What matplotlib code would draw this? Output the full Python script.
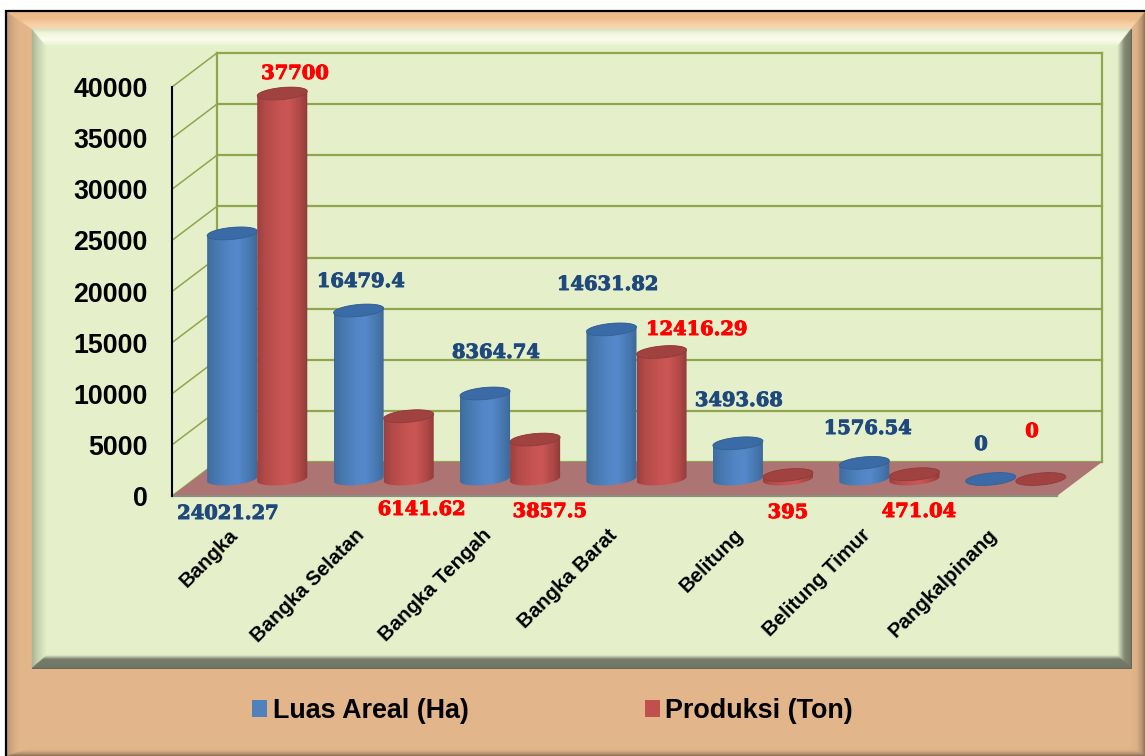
import numpy as np
import matplotlib
matplotlib.use("Agg")
import matplotlib.pyplot as plt
import matplotlib.patheffects as pe
from matplotlib.colors import to_rgb
from matplotlib.patches import Polygon, Patch
from matplotlib.path import Path
from matplotlib.transforms import IdentityTransform

# ---------- data ----------
categories = ["Bangka", "Bangka Selatan", "Bangka Tengah", "Bangka Barat",
              "Belitung", "Belitung Timur", "Pangkalpinang"]
luas_areal = [24021.27, 16479.4, 8364.74, 14631.82, 3493.68, 1576.54, 0]
produksi = [37700, 6141.62, 3857.5, 12416.29, 395, 471.04, 0]
series_names = ["Luas Areal (Ha)", "Produksi (Ton)"]
y_ticks = [0, 5000, 10000, 15000, 20000, 25000, 30000, 35000, 40000]

# ---------- layout ----------
W, H = 1145, 756
FONT = "Liberation Sans"
SERIF = "DejaVu Serif"
BLUE_TXT, RED_TXT = "#1F497D", "#FF0000"
GRID = "#8FA54E"
DEPTH = (45, 34)      # oblique shift of back wall, in pixels
BAR_DEPTH = (22, 17)  # oblique shift of the cylinders
BAR_OFFSET = 0.198    # in categories
TILT = 0.09

plt.rcParams["font.family"] = [FONT, "DejaVu Sans"]
fig = plt.figure(figsize=(W / 100, H / 100), dpi=100, facecolor="white")

# ---------- frame panels, in pixel coordinates ----------
bg = fig.add_axes([0, 0, 1, 1], zorder=0)
bg.set_xlim(0, W)
bg.set_ylim(H, 0)
bg.axis("off")


def ramp(stops, t):
    pos = [s[0] for s in stops]
    cols = np.array([to_rgb(s[1]) for s in stops])
    return tuple(np.interp(t, pos, cols[:, c]) for c in range(3))


def rect(x0, y0, x1, y1, color):
    bg.add_patch(Polygon([(x0, y0), (x1, y0), (x1, y1), (x0, y1)], closed=True,
                         fc=color, ec="none", antialiased=False))


def bevel(x0, y0, x1, y1, widths, left, top, right, bottom, steps=60):
    wl, wt, wr, wb = widths
    for k in range(steps):
        a, b = k / steps, (k + 1) / steps
        t = (a + b) / 2
        def corners(f):
            return (x0 + wl * f, y0 + wt * f, x1 - wr * f, y1 - wb * f)
        xa, ya, xb, yb = corners(a)
        xc, yc, xd, yd = corners(b)
        quads = [
            ([(xa, ya), (xc, yc), (xc, yd), (xa, yb)], left),
            ([(xa, ya), (xb, ya), (xd, yc), (xc, yc)], top),
            ([(xb, ya), (xd, yc), (xd, yd), (xb, yb)], right),
            ([(xa, yb), (xc, yd), (xd, yd), (xb, yb)], bottom),
        ]
        for pts, st in quads:
            c = ramp(st, t)
            bg.add_patch(Polygon(pts, closed=True, fc=c, ec=c, lw=0.3))


TAN = "#E2B58A"
FACE = "#E5F0CB"
rect(7, 12, W + 2, H + 2, TAN)
bevel(7, 12, W, H, (25, 17, 14, 8),
      left=[(0, "#BC9672"), (0.3, "#D9AE85"), (0.5, TAN), (1, TAN)],
      top=[(0, "#EDBB89"), (0.45, "#EFBE8D"), (0.7, "#F6D0A6"), (1, "#F8D8B2")],
      right=[(0, "#8E6F55"), (0.25, "#B99572"), (0.6, "#DDB187"), (1, TAN)],
      bottom=[(0, "#7F6650"), (0.3, "#B08D6C"), (0.7, "#D9AE85"), (1, TAN)])
bg.plot([6, 6, W + 3], [H + 3, 11, 11], color="black", lw=1.6, solid_joinstyle="miter")

rect(32, 29, 1131, 668, FACE)
bevel(32, 29, 1131, 668, (15, 18, 14, 13),
      left=[(0, "#A8B394"), (0.4, "#C5D0AE"), (1, FACE)],
      top=[(0, "#D5E2BC"), (0.25, "#F0F6DC"), (0.6, "#FBFDEE"), (1, FACE)],
      right=[(0, "#6F7663"), (0.5, "#848C74"), (1, FACE)],
      bottom=[(0, "#6E7564"), (0.7, "#757C69"), (1, "#DDE8C2")])
bg.plot([1131, 1131, 32], [29, 668, 668], color="#55594E", lw=0.6)

# ---------- value axes ----------
ax = fig.add_axes([172 / W, (H - 496) / H, 885 / W, 409 / H], zorder=1)
ax.patch.set_visible(False)
ax.set_xlim(0, len(categories))
ax.set_ylim(0, 40000)
ax.set_autoscale_on(False)
for s in ax.spines.values():
    s.set_visible(False)
ax.spines["left"].set_visible(True)
ax.spines["left"].set_linewidth(1.5)
ax.spines["left"].set_zorder(20)
ax.set_yticks(y_ticks)
ax.set_yticklabels([str(t) for t in y_ticks], fontsize=19.3, fontweight="bold",
                   fontfamily=FONT)
ax.tick_params(axis="y", length=0, pad=17.5)
ax.set_xticks(np.arange(len(categories)) + 0.5)
ax.set_xticklabels(categories, rotation=45, ha="right", va="center",
                   rotation_mode="anchor", fontsize=14.7, fontweight="bold",
                   fontfamily=FONT)
ax.tick_params(axis="x", length=0, pad=26)
ID = IdentityTransform()


def disp(x, y, shift=(0, 0)):
    p = ax.transData.transform((x, y))
    return p[0] + shift[0], p[1] + shift[1]


xmax = len(categories)
# gridlines on the side and back walls
for v in y_ticks:
    a = disp(0, v)
    b = disp(0, v, DEPTH)
    c = disp(xmax, v, DEPTH)
    ax.plot([a[0], b[0]], [a[1], b[1]], color=GRID, lw=1.1, transform=ID, clip_on=False, zorder=2)
    ax.plot([b[0], c[0]], [b[1], c[1]], color=GRID, lw=1.6, transform=ID, clip_on=False, zorder=2)
for x in (0, xmax):
    b = disp(x, 0, DEPTH)
    c = disp(x, 40000, DEPTH)
    ax.plot([b[0], c[0]], [b[1], c[1]], color=GRID, lw=1.6, transform=ID, clip_on=False, zorder=2)

# floor
floor = [disp(0, 0), disp(0, 0, DEPTH), disp(xmax, 0, DEPTH), disp(xmax, 0)]
ax.add_patch(Polygon(floor, closed=True, fc="#AD7474", ec="none", transform=ID,
                     clip_on=False, zorder=3))
ax.plot([floor[0][0], floor[3][0]], [floor[0][1], floor[3][1]], color="#8E8E80", lw=1.6,
        transform=ID, clip_on=False, zorder=4)


def ellipse_pts(cx, cy, rx, ry, t):
    return np.column_stack([cx + rx * np.cos(t), cy + ry * np.sin(t) + TILT * rx * np.cos(t)])


def cylinder(xc, value, stops, top_col, top_edge, z):
    bx, by = disp(xc, 0, BAR_DEPTH)
    _, ty = disp(xc, value, BAR_DEPTH)
    x_left, _ = disp(xc - BAR_OFFSET, 0, BAR_DEPTH)
    rx = bx - x_left
    ry = 6
    if value > 0:
        lower = ellipse_pts(bx, by, rx, ry, np.linspace(np.pi, 2 * np.pi, 60))
        upper = ellipse_pts(bx, ty, rx, ry, np.linspace(0, np.pi, 60))
        pts = np.vstack([lower, upper, lower[:1]])
        path = Path(pts)
        grad = np.array([[ramp(stops, t) for t in np.linspace(0, 1, 64)]])
        im = ax.imshow(grad, extent=(bx - rx, bx + rx, by - ry - 6, ty + ry + 6), aspect="auto",
                       transform=ID, interpolation="bilinear", zorder=z)
        im.set_clip_box(fig.bbox)
        im.set_clip_path(path, ID)
    top = ellipse_pts(bx, ty, rx, ry, np.linspace(0, 2 * np.pi, 80))
    ax.add_patch(Polygon(top, closed=True, fc=top_col, ec=top_edge, lw=0.6, transform=ID,
                         clip_on=False, zorder=z + 0.1))


BLUE_STOPS = [(0, "#3F6C9E"), (0.15, "#4677AE"), (0.45, "#5286C6"), (0.62, "#5689CB"),
              (0.85, "#4777B0"), (1, "#3D6898")]
RED_STOPS = [(0, "#9C403F"), (0.15, "#B24A48"), (0.45, "#C65452"), (0.62, "#CB5755"),
             (0.85, "#AE4846"), (1, "#8E3B39")]

for i in range(len(categories)):
    z = 5 + i
    cylinder(i + 0.5 - BAR_OFFSET, luas_areal[i], BLUE_STOPS, "#3B6BA6", "#33608F", z)
    cylinder(i + 0.5 + BAR_OFFSET, produksi[i], RED_STOPS, "#A04240", "#8F3B39", z + 0.3)

# ---------- data labels (pixel anchors in the frame) ----------
blue_label_xy = [(228, 514), (361, 282), (496, 353), (608, 285), (739, 401), (868, 429), (981, 445)]
red_label_xy = [(295, 74), (422, 510), (550, 512), (697, 330), (788, 513), (919, 512), (1032, 432)]
for vals, xy, col in ((luas_areal, blue_label_xy, BLUE_TXT), (produksi, red_label_xy, RED_TXT)):
    for v, (px, py) in zip(vals, xy):
        bg.text(px, py, str(v), color=col, ha="center", va="center", fontsize=14,
                fontweight="bold", fontfamily=SERIF, zorder=30,
                path_effects=[pe.withStroke(linewidth=0.7, foreground=col)])

handles = [Patch(fc="#4F81BD", ec="none"), Patch(fc="#C0504D", ec="none")]
leg = fig.legend(handles, series_names, loc="center", bbox_to_anchor=(552.5 / W, (H - 711) / H),
                 ncol=2, frameon=False, borderpad=0, handlelength=0.56, handleheight=0.56,
                 handletextpad=0.2, columnspacing=6.53,
                 prop={"family": FONT, "weight": "bold", "size": 19.4})

fig.savefig("out.png", dpi=100, facecolor="white")
